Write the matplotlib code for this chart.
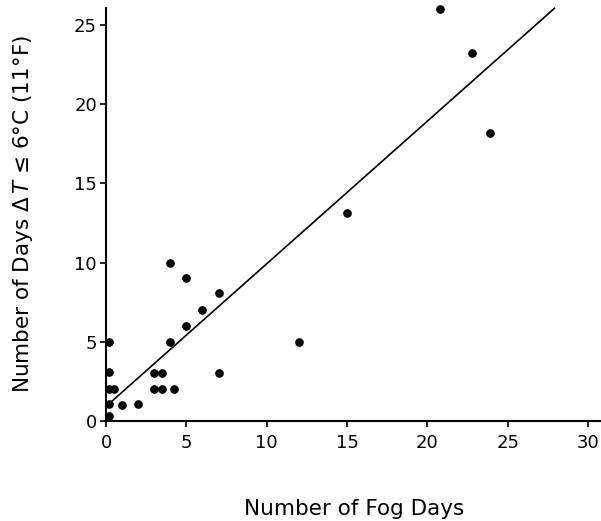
import matplotlib
matplotlib.use("Agg")
import matplotlib.pyplot as plt

# fog days vs days with small air-sea temperature difference
fog_days = [0.2, 0.2, 0.2, 0.5, 0.2, 0.2, 1.0, 2.0, 3.0, 3.5, 3.0, 3.5, 4.2,
            4.0, 4.0, 5.0, 5.0, 6.0, 7.0, 7.0, 12.0, 15.0, 20.8, 22.8, 23.9]
dt_days = [5.0, 3.1, 2.0, 2.0, 1.05, 0.3, 1.0, 1.1, 3.0, 3.0, 2.0, 2.0, 2.0,
           10.0, 5.0, 9.0, 6.0, 7.0, 8.1, 3.0, 5.0, 13.1, 26.0, 23.2, 18.2]

# regression line end points
fit_x = [0.2, 27.9]
fit_y = [1.1, 26.05]

xticks = [0, 5, 10, 15, 20, 25, 30]
yticks = [0, 5, 10, 15, 20, 25]

plt.rcParams['font.family'] = ['DejaVu Sans']
plt.rcParams['mathtext.fontset'] = 'dejavusans'

fig = plt.figure(figsize=(6.01, 5.21), dpi=100)
ax = fig.add_axes([0.1764, 0.1919, 0.8263, 0.7927])

ax.plot(fit_x, fit_y, color='black', lw=1.2, clip_on=False)
ax.plot(fog_days, dt_days, 'o', color='black', ms=5.2, clip_on=False)

ax.set_xlim(0, 30.9)
ax.set_ylim(0, 26.07)
ax.set_xticks(xticks)
ax.set_yticks(yticks)

for s in ['top', 'right']:
    ax.spines[s].set_visible(False)
for s in ['left', 'bottom']:
    ax.spines[s].set_linewidth(1.5)

ax.tick_params(direction='out', length=4.5, width=1.2, labelsize=13)
ax.tick_params(axis='x', pad=5)
ax.tick_params(axis='y', pad=2)

ax.set_xlabel('Number of Fog Days', fontsize=15.5, labelpad=34)
ax.set_ylabel(r'Number of Days $\Delta\,T$ ≤ 6°C (11°F)', fontsize=15.5, labelpad=28)

fig.savefig('out.png', dpi=100)
